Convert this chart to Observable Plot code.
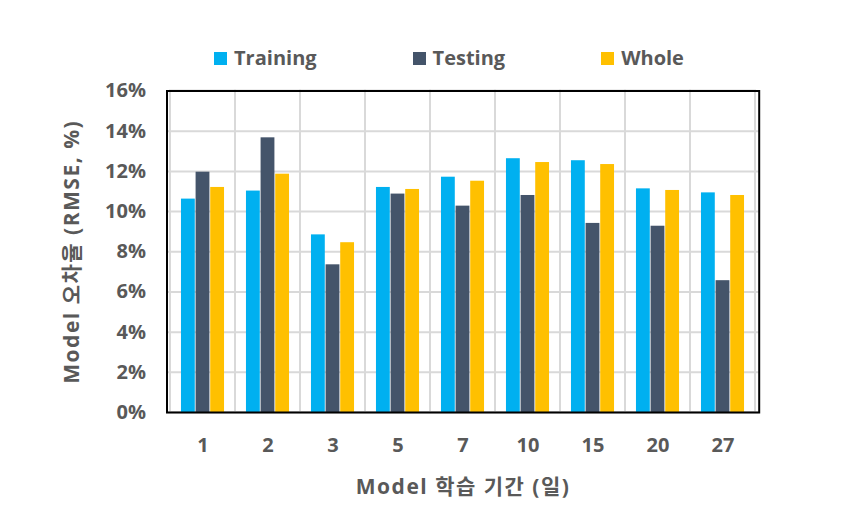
<!DOCTYPE html>
<html><head><meta charset="utf-8">
<script src="https://cdn.jsdelivr.net/npm/d3@7"></script>
<script src="https://cdn.jsdelivr.net/npm/@observablehq/plot@0.6"></script>
<style>
body{margin:0;background:#fff;font-family:"Open Sans","Noto Sans CJK KR",sans-serif;}
#wrap{width:867px;}
#legend{position:relative;height:75px;display:flex;justify-content:center;align-items:flex-start;gap:96px;padding-left:31px;box-sizing:border-box;}
.item{display:flex;align-items:center;margin-top:44px;font-weight:bold;font-size:20px;color:#595959;line-height:28px;}
.sw{width:13px;height:13px;margin-right:7px;}
</style></head><body><div id="wrap"><div id="legend"></div><div id="chart"></div></div>
<script>
const categories = ["1","2","3","5","7","10","15","20","27"];
const series = ["Training","Testing","Whole"];
const training = [10.62, 11.02, 8.84, 11.20, 11.71, 12.63, 12.53, 11.13, 10.93];
const testing  = [11.96, 13.67, 7.35, 10.87, 10.27, 10.80, 9.41, 9.27, 6.56];
const whole    = [11.20, 11.86, 8.45, 11.10, 11.51, 12.44, 12.34, 11.05, 10.80];
const yTicks = [0, 2, 4, 6, 8, 10, 12, 14, 16];
const colors = ["#00B0F0", "#44546A", "#FFC000"];
const xTitle = "Model 학습 기간 (일)";
const yTitle = "Model 오차율 (RMSE, %)";

const values = [training, testing, whole];

// legend
const legend = document.getElementById("legend");
series.forEach((s, i) => {
  const it = document.createElement("div");
  it.className = "item";
  const sw = document.createElement("span");
  sw.className = "sw"; sw.style.background = colors[i];
  it.appendChild(sw);
  it.appendChild(document.createTextNode(s));
  legend.appendChild(it);
});

const W = 867, H = 436;
const mL = 166.5, mR = 108.3, mT = 15.5, mB = 99;
const bw = (W - mL - mR) / categories.length;
const barW = bw / 4.5;
const gap = (bw - 3 * barW) / 2;

const barMarks = values.map((vals, i) => Plot.barY(
  categories.map((c, j) => ({cat: c, value: vals[j]})),
  {x: "cat", y: "value", fill: colors[i],
   insetLeft: gap + i * barW, insetRight: bw - gap - (i + 1) * barW}
));

const chart = Plot.plot({
  width: W, height: H,
  marginLeft: mL, marginRight: mR, marginTop: mT, marginBottom: mB,
  style: {fontFamily: '"Open Sans","Noto Sans CJK KR",sans-serif', fontWeight: "bold", fontSize: "20px", color: "#595959", background: "white"},
  x: {domain: categories, padding: 0},
  y: {domain: [0, 16]},
  marks: [
    Plot.ruleY(yTicks, {stroke: "#d9d9d9", strokeWidth: 2}),
    Plot.barY(categories, {x: d => d, y1: 0, y2: 16, fill: "none", stroke: "#d9d9d9", strokeWidth: 2}),
    ...barMarks,
    Plot.frame({stroke: "black", strokeWidth: 2}),
    Plot.axisY({ticks: yTicks, tickFormat: d => d + "%", tickSize: 0, tickPadding: 21,
      label: yTitle, labelAnchor: "center", labelOffset: 103, labelArrow: "none", fontSize: 20}),
    Plot.axisX({tickSize: 0, tickPadding: 25, label: xTitle, labelAnchor: "center", labelOffset: 81, labelArrow: "none", fontSize: 20})
  ]
});
// widen the axis titles a little to match the reference
d3.select(chart).selectAll("text").filter(function() {
  const t = this.textContent; return t === xTitle || t === yTitle;
}).style("letter-spacing", "1.5px").style("font-size", "21px");
document.getElementById("chart").appendChild(chart);
</script></body></html>
